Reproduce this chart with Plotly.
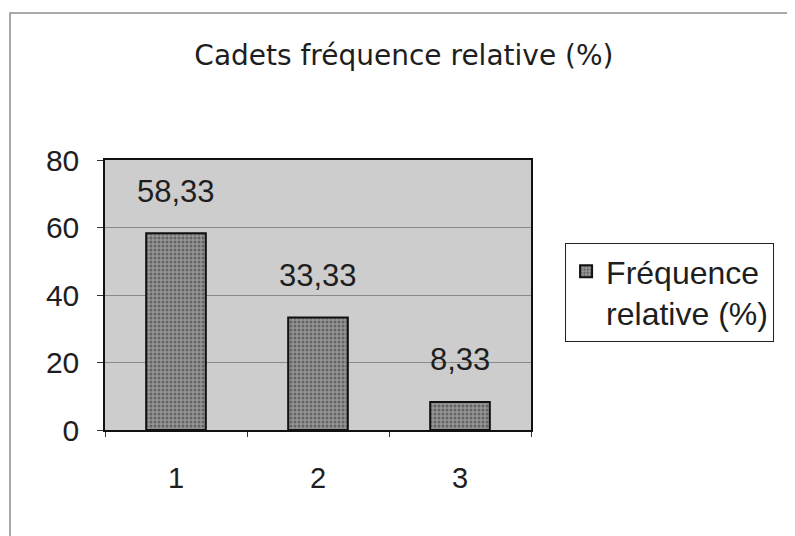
import plotly.graph_objects as go

categories = ["1", "2", "3"]
values = [58.33, 33.33, 8.33]
value_labels = ["58,33", "33,33", "8,33"]
series_name = "Fréquence<br>relative (%)"
title_text = "Cadets fréquence relative (%)"
y_ticks = [0, 20, 40, 60, 80]

FONT = "Liberation Sans, Arial, sans-serif"
INK = "#1e1e1e"

fig = go.Figure(
    go.Bar(
        x=categories,
        y=values,
        name=series_name,
        width=0.42,
        marker=dict(
            color="#8c8c8c",
            line=dict(color="#111111", width=2),
            pattern=dict(shape=".", fgcolor="#333333", bgcolor="#959595", size=4, solidity=0.45),
        ),
        showlegend=True,
    )
)

# data labels float a fixed distance above each bar
for i, (val, lab) in enumerate(zip(values, value_labels)):
    fig.add_annotation(
        x=i, y=val, text=lab, showarrow=False, yshift=42,
        font=dict(family=FONT, size=31, color=INK),
    )

fig.update_layout(
    width=795,
    height=536,
    margin=dict(l=97, r=272, t=152, b=114),
    paper_bgcolor="white",
    plot_bgcolor="#cdcdcd",
    font=dict(family=FONT, color=INK, size=30),
    title=dict(
        text=title_text,
        x=0.498, xref="container", xanchor="center",
        y=1 - 47 / 536, yref="container", yanchor="middle",
        font=dict(family="DejaVu Sans, sans-serif", size=28, color=INK),
    ),
    showlegend=True,
    legend=dict(
        x=1.08, y=0.693, xanchor="left", yanchor="top",
        bgcolor="white", bordercolor="#222222", borderwidth=1,
        font=dict(family=FONT, size=32, color=INK),
        valign="top",
        itemwidth=30,
    ),
)

fig.update_xaxes(
    type="category",
    tickson="boundaries",
    ticks="outside",
    ticklen=5,
    tickcolor="#333333",
    showline=True,
    linecolor="#111111",
    linewidth=2,
    mirror=True,
    showgrid=False,
    tickfont=dict(family=FONT, size=29, color=INK),
    ticklabelstandoff=21,
)
fig.update_yaxes(
    range=[0, 80],
    tickvals=y_ticks,
    ticks="outside",
    ticklen=6,
    tickcolor="#333333",
    showline=True,
    linecolor="#111111",
    linewidth=1.5,
    mirror=True,
    showgrid=True,
    gridcolor="#8a8a8a",
    gridwidth=1,
    zeroline=False,
    tickfont=dict(family=FONT, size=30, color=INK),
    ticklabelstandoff=12,
)

# faint outline of the chart area, as on the scanned original
fig.add_shape(
    type="rect", xref="paper", yref="paper",
    x0=-95 / 426, x1=760 / 426, y0=-140 / 270, y1=1 + 147 / 270,
    line=dict(color="#8f8f8f", width=1.5), layer="below",
)

fig.write_html("out.html")
